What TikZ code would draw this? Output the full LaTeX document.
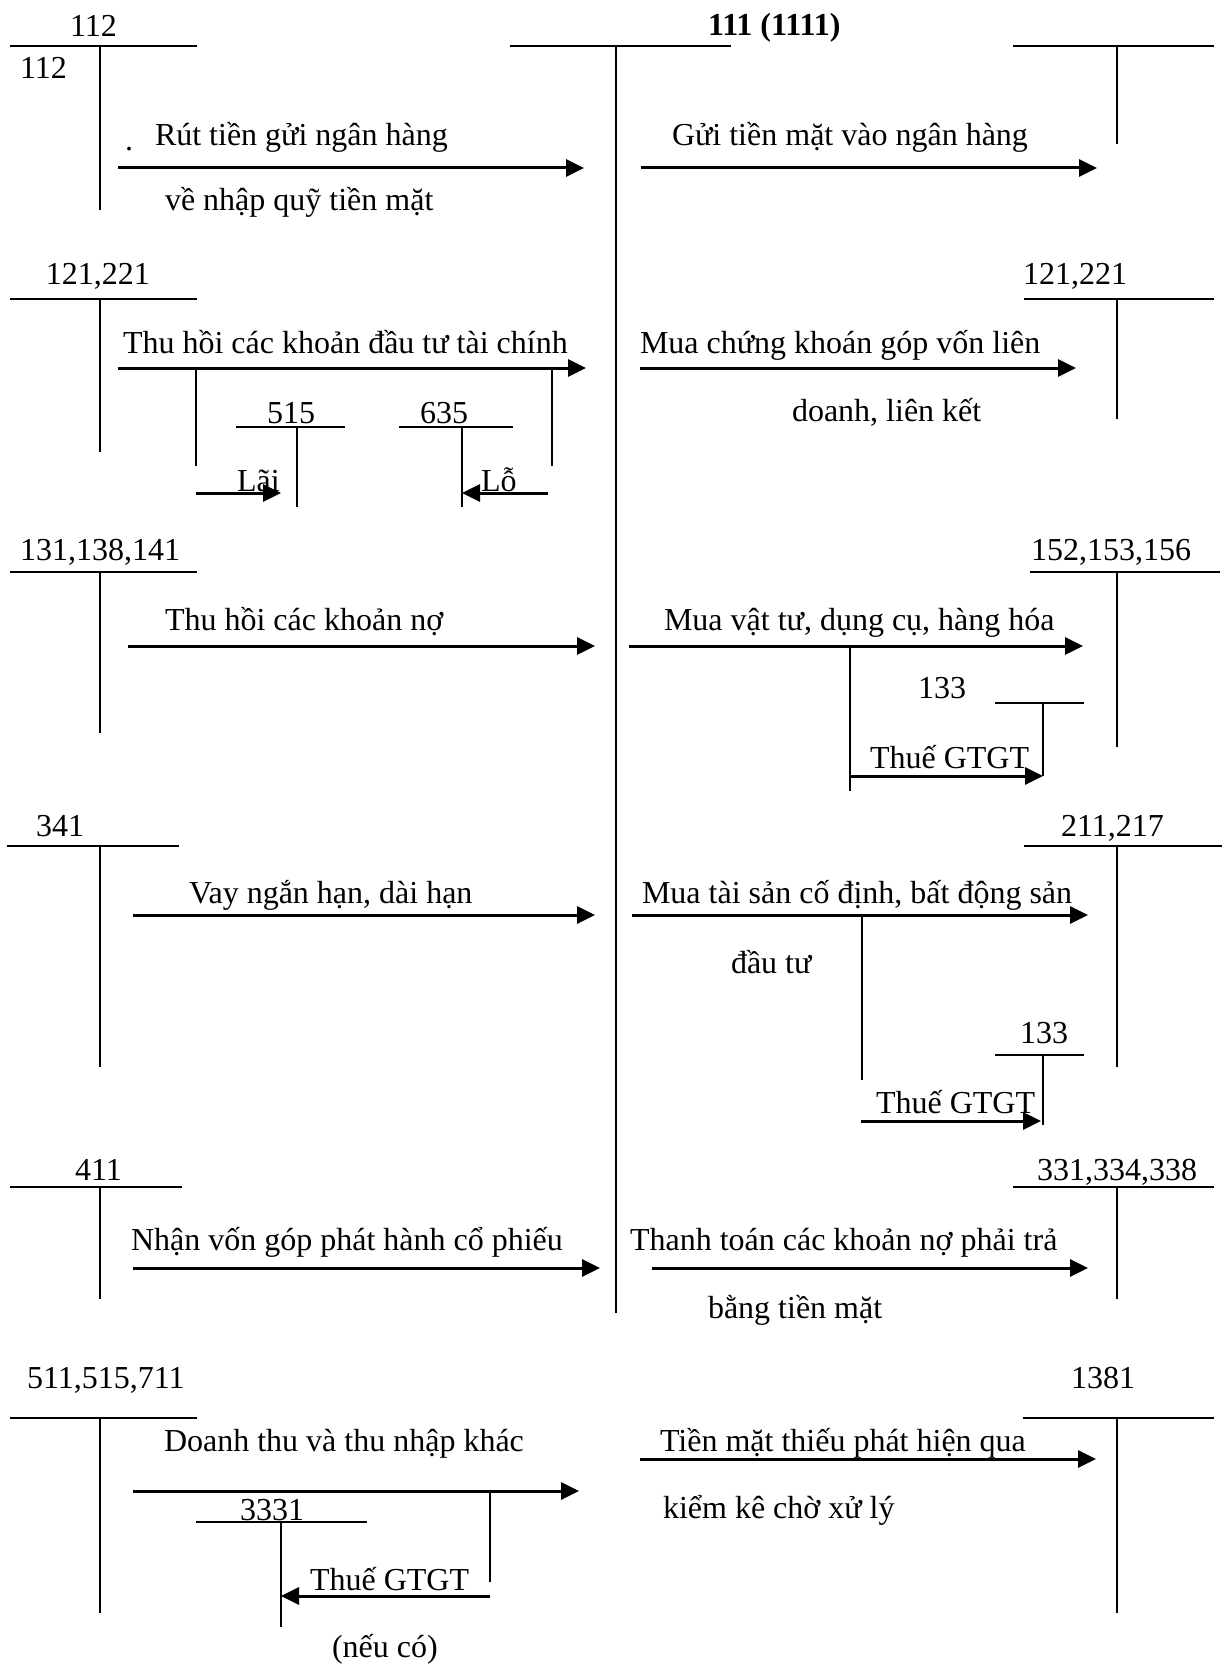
\documentclass[tikz,border=0pt]{standalone}
\usepackage{fontspec}
\setmainfont{Liberation Serif}
\usetikzlibrary{arrows.meta}
\begin{document}
\begin{tikzpicture}[x=0.5pt,y=-0.5pt,
  tl/.style={line width=1.1pt},
  arr/.style={line width=1.5pt,-{Triangle[length=9pt,width=8.5pt]}},
  lbl/.style={anchor=base west,inner sep=0pt,outer sep=0pt,yshift=-1.5pt,font=\fontsize{16}{19}\selectfont}]
\useasboundingbox[fill=white] (0,0) rectangle (1221,1664);
% ---------- T accounts (lines) ----------
\newcommand{\tacc}[5]{\draw[tl] (#1,#4) -- (#2,#4); \draw[tl] (#3,#4) -- (#3,#5);}
% main 111
\draw[tl] (510,46) -- (731,46);
\draw[line width=1.3pt] (616,46) -- (616,1313);
% left column
\tacc{10}{197}{100}{46}{210}
\tacc{10}{197}{100}{299}{452}
\tacc{10}{197}{100}{572}{733}
\tacc{7}{179}{100}{846}{1067}
\tacc{10}{182}{100}{1187}{1299}
\tacc{10}{197}{100}{1418}{1613}
% right column
\tacc{1013}{1214}{1117}{46}{144}
\tacc{1024}{1214}{1117}{299}{419}
\tacc{1030}{1220}{1117}{572}{747}
\tacc{1024}{1222}{1117}{846}{1067}
\tacc{1013}{1214}{1117}{1187}{1299}
\tacc{1023}{1214}{1117}{1418}{1613}
% sub accounts
\tacc{236}{345}{297}{427}{507}
\tacc{399}{513}{462}{427}{507}
\tacc{995}{1084}{1043}{703}{776}
\tacc{995}{1084}{1043}{1055}{1125}
\tacc{196}{367}{281}{1522}{1627}
% drop lines
\draw[tl] (196,368) -- (196,466);
\draw[tl] (552,368) -- (552,466);
\draw[tl] (850,646) -- (850,791);
\draw[tl] (862,915) -- (862,1080);
\draw[tl] (490,1491) -- (490,1582);
% ---------- coordinates for connectors ----------
\coordinate (a1s) at (118,168); \coordinate (a1e) at (584,168);
\coordinate (b1s) at (641,168); \coordinate (b1e) at (1097,168);
\coordinate (a2s) at (118,368); \coordinate (a2e) at (586,368);
\coordinate (b2s) at (640,368); \coordinate (b2e) at (1076,368);
\coordinate (laiS) at (196,493); \coordinate (laiE) at (281,493);
\coordinate (loS) at (548,493); \coordinate (loE) at (462,493);
\coordinate (a3s) at (128,646); \coordinate (a3e) at (595,646);
\coordinate (b3s) at (629,646); \coordinate (b3e) at (1083,646);
\coordinate (t3s) at (850,776); \coordinate (t3e) at (1043,776);
\coordinate (a4s) at (133,915); \coordinate (a4e) at (595,915);
\coordinate (b4s) at (632,915); \coordinate (b4e) at (1088,915);
\coordinate (t4s) at (861,1121); \coordinate (t4e) at (1041,1121);
\coordinate (a5s) at (133,1268); \coordinate (a5e) at (600,1268);
\coordinate (b5s) at (652,1268); \coordinate (b5e) at (1088,1268);
\coordinate (a6s) at (133,1491); \coordinate (a6e) at (579,1491);
\coordinate (b6s) at (640,1459); \coordinate (b6e) at (1096,1459);
\coordinate (t6s) at (490,1596); \coordinate (t6e) at (281,1596);
\foreach \s/\e in {a1s/a1e,b1s/b1e,a2s/a2e,b2s/b2e,laiS/laiE,loS/loE,a3s/a3e,b3s/b3e,t3s/t3e,a4s/a4e,b4s/b4e,t4s/t4e,a5s/a5e,b5s/b5e,a6s/a6e,b6s/b6e,t6s/t6e}
  \draw[arr] (\s) -- (\e);
% ---------- labels ----------
\node[lbl] (n112a) at (70,34) {112};
\node[lbl] (n112b) at (20,76) {112};
\node[lbl] (n111) at (708,33) {\textbf{111 (1111)}};
\node[lbl] (dot) at (125,148) {.};
\node[lbl] (t1a) at (155,143) {Rút tiền gửi ngân hàng};
\node[lbl] (t1b) at (165,208) {về nhập quỹ tiền mặt};
\node[lbl] (t1c) at (672,143) {Gửi tiền mặt vào ngân hàng};
\node[lbl] (n121l) at (46,282) {121,221};
\node[lbl] (n121r) at (1023,282) {121,221};
\node[lbl] (t2a) at (123,350) {Thu hồi các khoản đầu tư tài chính};
\node[lbl] (t2b) at (640,350) {Mua chứng khoán góp vốn liên};
\node[lbl] (t2c) at (792,418) {doanh, liên kết};
\node[lbl] (n515) at (267,420) {515};
\node[lbl] (n635) at (420,420) {635};
\node[lbl] (lai) at (237,488) {Lãi};
\node[lbl] (lo) at (481,488) {Lỗ};
\node[lbl] (n131) at (20,557) {131,138,141};
\node[lbl] (n152) at (1031,557) {152,153,156};
\node[lbl] (t3a) at (165,627) {Thu hồi các khoản nợ};
\node[lbl] (t3b) at (664,627) {Mua vật tư, dụng cụ, hàng hóa};
\node[lbl] (n133a) at (918,695) {133};
\node[lbl] (t3c) at (870,765) {Thuế GTGT};
\node[lbl] (n341) at (36,833) {341};
\node[lbl] (n211) at (1061,833) {211,217};
\node[lbl] (t4a) at (189,900) {Vay ngắn hạn, dài hạn};
\node[lbl] (t4b) at (642,900) {Mua tài sản cố định, bất động sản};
\node[lbl] (t4c) at (731,970) {đầu tư};
\node[lbl] (n133b) at (1020,1040) {133};
\node[lbl] (t4d) at (876,1110) {Thuế GTGT};
\node[lbl] (n411) at (75,1177) {411};
\node[lbl] (n331) at (1037,1177) {331,334,338};
\node[lbl] (t5a) at (131,1247) {Nhận vốn góp phát hành cổ phiếu};
\node[lbl] (t5b) at (630,1247) {Thanh toán các khoản nợ phải trả};
\node[lbl] (t5c) at (708,1315) {bằng tiền mặt};
\node[lbl] (n511) at (27,1385) {511,515,711};
\node[lbl] (n1381) at (1071,1385) {1381};
\node[lbl] (t6a) at (164,1448) {Doanh thu và thu nhập khác};
\node[lbl] (t6b) at (660,1448) {Tiền mặt thiếu phát hiện qua};
\node[lbl] (n3331) at (240,1517) {3331};
\node[lbl] (t6c) at (663,1515) {kiểm kê chờ xử lý};
\node[lbl] (t6d) at (310,1587) {Thuế GTGT};
\node[lbl] (t6e) at (332,1654) {(nếu có)};
\end{tikzpicture}
\end{document}
